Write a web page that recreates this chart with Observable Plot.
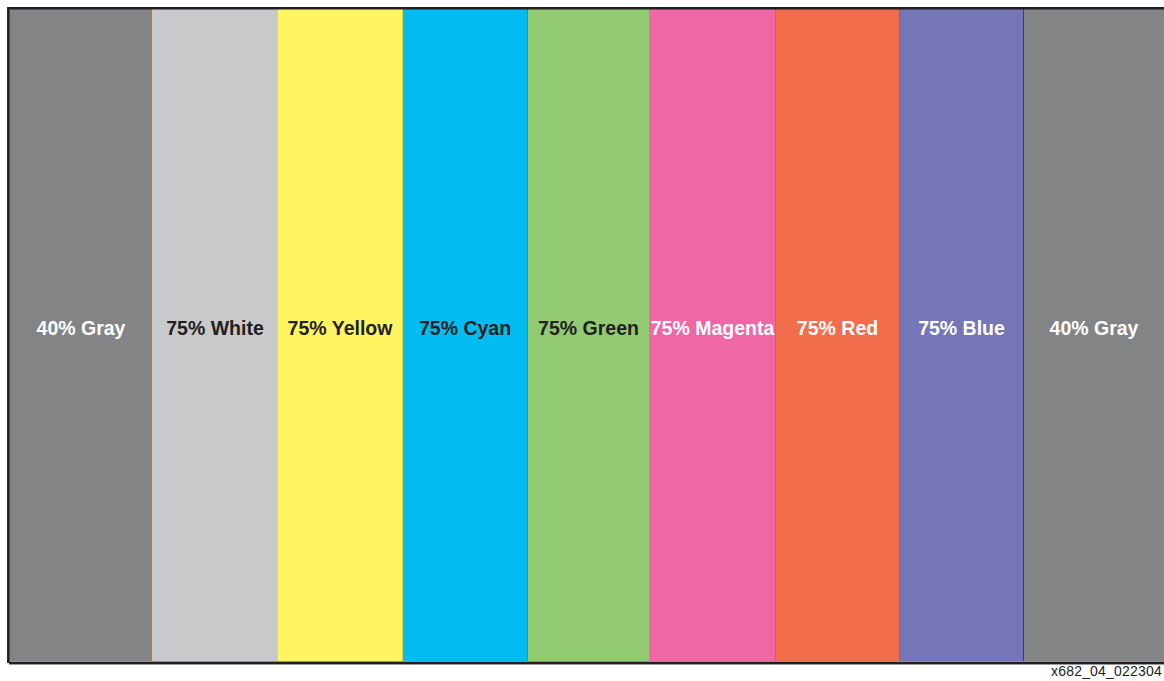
<!DOCTYPE html>
<html>
<head>
<meta charset="utf-8">
<script src="https://cdn.jsdelivr.net/npm/d3@7"></script>
<script src="https://cdn.jsdelivr.net/npm/@observablehq/plot@0.6"></script>
<style>
  html, body { margin: 0; padding: 0; background: #fff; overflow: hidden; }
  #chart { position: relative; width: 1164px; height: 681px; }
  #chart svg { display: block; }
</style>
</head>
<body>
<div id="chart"></div>
<script>
const labels = ["40% Gray", "75% White", "75% Yellow", "75% Cyan", "75% Green", "75% Magenta", "75% Red", "75% Blue", "40% Gray"];
const widths = [143, 125, 125, 125, 122, 126, 124, 124, 141];
const fills = ["#838486", "#c8c9cb", "#fff462", "#00bcf1", "#92cb72", "#f067a6", "#f26d4c", "#7476b7", "#838486"];
const textColors = ["#ffffff", "#231f20", "#231f20", "#231f20", "#231f20", "#ffffff", "#ffffff", "#ffffff", "#ffffff"];
const edgeColors = ["#d8cbb5", "#e6d37a", "#e6d646", "#00a3c9", "#7cb35f", "#e0508f", "#d9434f", "#3b3a8f", "#838486"];
const footnote = "x682_04_022304";

let acc = 0;
const bars = labels.map((label, i) => {
  const x1 = acc; acc += widths[i];
  return { label, x1, x2: acc, mid: (x1 + acc) / 2, fill: fills[i], text: textColors[i], edge: edgeColors[i] };
});
const total = acc;

const chart = Plot.plot({
  width: 1164,
  height: 681,
  marginTop: 9,
  marginLeft: 9,
  marginRight: 0,
  marginBottom: 20,
  x: { domain: [0, total], axis: null },
  y: { domain: [0, 1], axis: null },
  style: { background: "#ffffff", overflow: "visible" },
  marks: [
    Plot.rectY(bars, { x1: "x1", x2: "x2", y1: 0, y2: 1, fill: d => d.fill, inset: 0 }),
    Plot.ruleX(bars.slice(0, -1), { x: "x2", y1: 0, y2: 1, stroke: d => d.edge, strokeWidth: 1 }),
    Plot.text(bars, {
      x: "mid", y: 0.5, text: "label", fill: d => d.text,
      fontSize: 19.5, fontWeight: "bold", fontFamily: "Liberation Sans, Arial, Helvetica, sans-serif",
      dy: -6.5
    }),
    Plot.ruleX([0], { y1: -0.003, y2: 1.003, stroke: "#231f20", strokeWidth: 2.5, dx: -1.2 }),
    Plot.ruleY([1], { stroke: "#231f20", strokeWidth: 2.5, dy: -1.2 }),
    Plot.ruleY([0], { stroke: "#231f20", strokeWidth: 2.5, dy: 1.2 }),
    Plot.ruleY([0], { stroke: "#9a9a9a", strokeWidth: 1, dy: 3 })
  ]
});
document.getElementById("chart").appendChild(chart);

const note = document.createElement("div");
note.textContent = footnote;
note.style.cssText = "position:absolute;right:2px;top:663px;font:14px 'Liberation Sans', Arial, sans-serif;letter-spacing:0.2px;color:#231f20;white-space:nowrap;";
document.getElementById("chart").appendChild(note);
</script>
</body>
</html>
